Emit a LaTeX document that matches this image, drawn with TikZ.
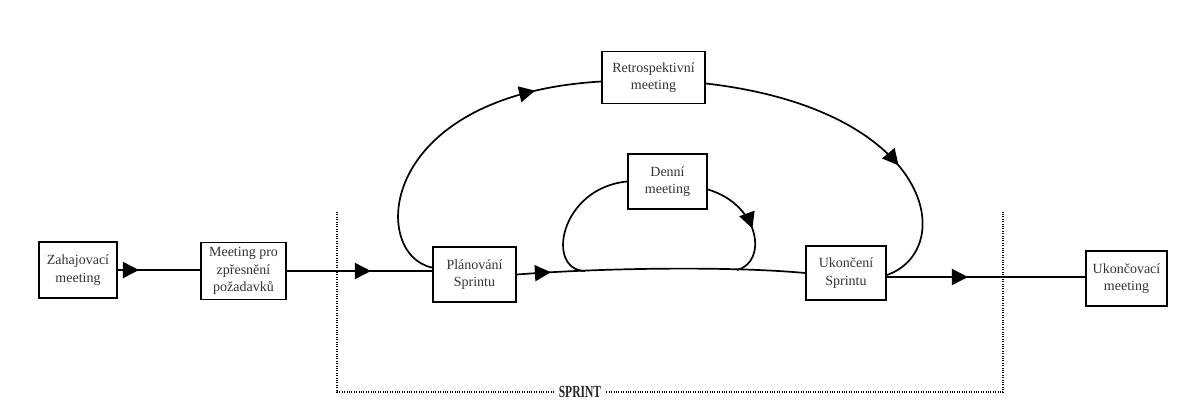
\documentclass[tikz,border=0pt]{standalone}
\usepackage{fontspec}
\setmainfont{Liberation Serif}
\usetikzlibrary{arrows.meta,decorations.markings}
\tikzset{
  box/.style={draw, line width=1.9pt, inner sep=0pt, align=center, text=black!80,
    font=\fontsize{14}{17.5}\selectfont},
  conn/.style={line width=1.7pt},
  midarrow/.style={postaction={decorate,decoration={markings,
    mark=at position #1 with {\arrow{Triangle[length=16pt,width=16pt]}}}}},
  sprintline/.style={line width=1.1pt, dash pattern=on 1pt off 1.4pt}
}
\begin{document}
\begin{tikzpicture}[x=1pt,y=-1pt]
\useasboundingbox (0,0) rectangle (1185,412);
% boxes
\node[box, minimum width=78pt, minimum height=56pt] (za) at (78,270) {Zahajovací\\meeting};
\node[box, minimum width=85pt, minimum height=57pt] (mp) at (243.5,271) {Meeting pro\\zpřesnění\\požadavků};
\node[box, minimum width=83pt, minimum height=55pt] (pl) at (474.5,274.5) {Plánování\\Sprintu};
\node[box, minimum width=79pt, minimum height=55pt] (dn) at (667.5,181.5) {Denní\\meeting};
\node[box, minimum width=103pt, minimum height=52pt] (re) at (653.5,77.5) {Retrospektivní\\meeting};
\node[box, minimum width=80pt, minimum height=54pt] (uk) at (846,273) {Ukončení\\Sprintu};
\node[box, minimum width=81pt, minimum height=55pt] (uv) at (1126.5,278.5) {Ukončovací\\meeting};
% main line connectors
\draw[conn, midarrow=21pt] (za.east) -- (za.east -| mp.west);
\draw[conn, midarrow=84pt] (mp.east) -- (mp.east -| pl.west);
\draw[conn, midarrow=34pt] (pl.east) .. controls (600,268) and (730,266) .. (uk.west);
\draw[conn, midarrow=81pt] ([yshift=-4pt]uk.east) -- ([yshift=-4pt]uk.east -| uv.west);
% daily loop
\coordinate (d1) at (585,271);
\coordinate (d2) at (737,270);
\draw[conn] (d1) .. controls (545,270) and (560,188) .. (dn.west);
\draw[conn, midarrow=0.55] ([yshift=-8pt]dn.east) .. controls (760,205) and (768,262) .. (d2);
% retrospective loop
\draw[conn, midarrow=0.80] ([yshift=7pt]pl.west) .. controls (370,255) and (375,95) .. ([yshift=-4pt]re.west);
\draw[conn, midarrow=0.62] ([yshift=-6pt]re.east) .. controls (935,110) and (958,250) .. ([yshift=-2pt]uk.east);
% sprint bracket
\node[font=\bfseries\fontsize{17}{17}\selectfont, text=black!85, inner sep=5pt] (sp) at (580,392) {\scalebox{0.68}[1]{SPRINT}};
\coordinate (s1) at (337,212);
\coordinate (s2) at (1003,212);
\draw[sprintline] (s1) -- (s1 |- sp) -- (sp.west);
\draw[sprintline] (sp.east) -- (s2 |- sp) -- (s2);
\end{tikzpicture}
\end{document}
